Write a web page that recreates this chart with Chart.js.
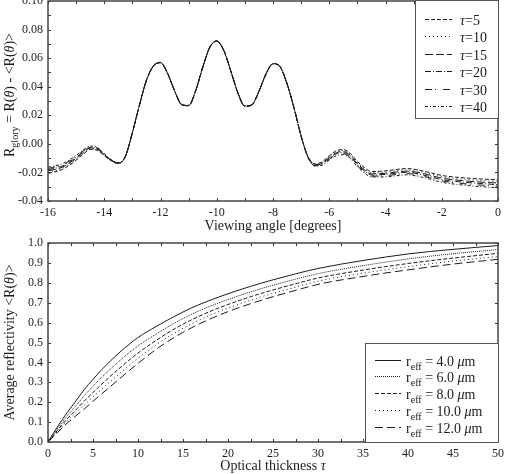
<!DOCTYPE html>
<html><head><meta charset="utf-8">
<script src="https://cdn.jsdelivr.net/npm/chart.js@4.4.1/dist/chart.umd.min.js"></script>
<style>html,body{margin:0;padding:0;background:#fff;}canvas{display:block;}</style>
</head><body>
<canvas id="c1" width="507" height="236"></canvas>
<canvas id="c2" width="507" height="238"></canvas>
<script>
// ---------- data: top panel ----------
const angles = [-16,-15.5,-15,-14.75,-14.5,-14.25,-14,-13.75,-13.5,-13.25,-13,-12.75,-12.5,-12.25,-12,-11.75,-11.5,-11.25,-11,-10.75,-10.5,-10.25,-10,-9.75,-9.5,-9.25,-9,-8.75,-8.5,-8.25,-8,-7.75,-7.5,-7.25,-7,-6.75,-6.5,-6.25,-6,-5.75,-5.5,-5.25,-5,-4.75,-4.5,-4,-3.25,-2.5,-2,-1.5,-1,-0.5,0];
const tau5 = [-0.0207,-0.0180,-0.0115,-0.0073,-0.0039,-0.0045,-0.0082,-0.0119,-0.0138,
 -0.0090,0.0076,0.0268,0.0443,0.0543,0.0567,0.0492,0.0370,0.0273,0.0266,0.0370,0.0533,0.0673,0.0718,0.0652,0.0508,0.0355,0.0262,0.0271,0.0366,0.0487,0.0559,0.0538,0.0418,0.0248,0.0053,
 -0.0090,-0.0140,-0.0125,-0.0083,-0.0048,-0.0040,-0.0067,-0.0124,-0.0166,-0.0194,-0.0189,-0.0173,-0.0197,-0.0221,-0.0233,-0.0241,-0.0247,-0.0252];
const tau10 = [-0.0198,-0.0172,-0.0108,-0.0067,-0.0034,-0.0041,-0.0079,-0.0117,-0.0137,
 -0.0089,0.0077,0.0269,0.0444,0.0544,0.0568,0.0493,0.0371,0.0274,0.0267,0.0371,0.0534,0.0674,0.0719,0.0653,0.0509,0.0356,0.0263,0.0272,0.0367,0.0488,0.0560,0.0539,0.0419,0.0249,0.0054,
 -0.0092,-0.0143,-0.0130,-0.0089,-0.0055,-0.0047,-0.0074,-0.0131,-0.0174,-0.0202,-0.0197,-0.0182,-0.0206,-0.0231,-0.0243,-0.0251,-0.0258,-0.0263];
const tau15 = [-0.0189,-0.0164,-0.0101,-0.0061,-0.0029,-0.0037,-0.0076,-0.0116,-0.0136,
 -0.0088,0.0078,0.0270,0.0445,0.0545,0.0569,0.0494,0.0372,0.0275,0.0268,0.0372,0.0535,0.0675,0.0720,0.0654,0.0510,0.0357,0.0264,0.0273,0.0368,0.0489,0.0561,0.0540,0.0420,0.0250,0.0055,
 -0.0094,-0.0146,-0.0135,-0.0095,-0.0062,-0.0054,-0.0081,-0.0138,-0.0181,-0.0210,-0.0206,-0.0191,-0.0215,-0.0240,-0.0253,-0.0262,-0.0269,-0.0274];
const tau20 = [-0.0181,-0.0156,-0.0095,-0.0055,-0.0025,-0.0033,-0.0074,-0.0114,-0.0134,
 -0.0088,0.0078,0.0270,0.0445,0.0545,0.0569,0.0494,0.0372,0.0275,0.0268,0.0372,0.0535,0.0675,0.0720,0.0654,0.0510,0.0357,0.0264,0.0273,0.0368,0.0489,0.0561,0.0540,0.0420,0.0250,0.0055,
 -0.0096,-0.0150,-0.0139,-0.0101,-0.0068,-0.0062,-0.0089,-0.0146,-0.0189,-0.0218,-0.0214,-0.0199,-0.0225,-0.0250,-0.0263,-0.0272,-0.0279,-0.0286];
const tau30 = [-0.0172,-0.0148,-0.0088,-0.0049,-0.0020,-0.0029,-0.0071,-0.0113,-0.0133,
 -0.0087,0.0079,0.0271,0.0446,0.0546,0.0570,0.0495,0.0373,0.0276,0.0269,0.0373,0.0536,0.0676,0.0721,0.0655,0.0511,0.0358,0.0265,0.0274,0.0369,0.0490,0.0562,0.0541,0.0421,0.0251,0.0056,
 -0.0098,-0.0153,-0.0144,-0.0107,-0.0075,-0.0069,-0.0096,-0.0153,-0.0196,-0.0226,-0.0223,-0.0208,-0.0234,-0.0259,-0.0273,-0.0283,-0.0290,-0.0297];
const tau40 = [-0.0163,-0.0140,-0.0081,-0.0043,-0.0015,-0.0025,-0.0068,-0.0111,-0.0132,
 -0.0086,0.0080,0.0272,0.0447,0.0547,0.0571,0.0496,0.0374,0.0277,0.0270,0.0374,0.0537,0.0677,0.0722,0.0656,0.0512,0.0359,0.0266,0.0275,0.0370,0.0491,0.0563,0.0542,0.0422,0.0252,0.0057,
 -0.0100,-0.0156,-0.0149,-0.0113,-0.0082,-0.0076,-0.0103,-0.0160,-0.0204,-0.0232,-0.0231,-0.0217,-0.0243,-0.0269,-0.0283,-0.0293,-0.0301,-0.0308];
const tauLabels = ['5','10','15','20','30','40'];

// ---------- data: bottom panel ----------
const tauAxis = [0,1,2,3,4,5,6,8,10,12,14,16,18,20,22.5,25,27.5,30,35,40,45,50];
const refl4  = [0,0.073,0.140,0.200,0.262,0.315,0.365,0.452,0.525,0.580,0.630,0.675,0.712,0.745,0.782,0.815,0.845,0.872,0.912,0.945,0.968,0.987];
const refl6  = [0,0.064,0.124,0.177,0.231,0.280,0.326,0.410,0.483,0.542,0.596,0.643,0.682,0.716,0.754,0.788,0.818,0.846,0.886,0.920,0.946,0.967];
const refl8  = [0,0.056,0.110,0.157,0.204,0.249,0.292,0.373,0.447,0.510,0.567,0.615,0.656,0.691,0.730,0.764,0.795,0.824,0.864,0.897,0.924,0.948];
const refl10 = [0,0.050,0.100,0.142,0.184,0.227,0.267,0.346,0.421,0.488,0.546,0.595,0.637,0.673,0.712,0.747,0.778,0.808,0.848,0.881,0.909,0.932];
const refl12 = [0,0.045,0.090,0.128,0.165,0.205,0.243,0.320,0.395,0.465,0.525,0.575,0.618,0.655,0.695,0.730,0.762,0.792,0.832,0.865,0.894,0.918];
const reffLabels = ['4.0','6.0','8.0','10.0','12.0'];

// ---------- text ----------
const topXTitle = [{t:'Viewing angle [degrees]'}];
const topYTitle = [{t:'R'},{t:'glory',sub:true},{t:' = R('},{t:'\u03B8',i:true},{t:') - <R('},{t:'\u03B8',i:true},{t:')>'}];
const botXTitle = [{t:'Optical thickness '},{t:'\u03C4',i:true}];
const botYTitle = [{t:'Average reflectivity <R('},{t:'\u03B8',i:true},{t:')>'}];

const FONT = "'Liberation Serif','Times New Roman',serif";
const INK = '#1c1c1c';
Chart.defaults.font.family = FONT;
Chart.defaults.color = INK;

function setFont(ctx, size, italic){ ctx.font = (italic?'italic ':'') + size + 'px ' + FONT; }
function richWidth(ctx, segs, size){
  let w = 0;
  for (const s of segs){ setFont(ctx, s.sub ? size*0.72 : size, s.i); w += ctx.measureText(s.t).width; }
  return w;
}
function drawRich(ctx, segs, x, y, size){
  let cx = x;
  ctx.textBaseline = 'alphabetic'; ctx.textAlign = 'left'; ctx.fillStyle = INK;
  for (const s of segs){
    const fs = s.sub ? size*0.72 : size;
    setFont(ctx, fs, s.i);
    ctx.fillText(s.t, cx, y + (s.sub ? size*0.3 : 0));
    cx += ctx.measureText(s.t).width;
  }
}

const framePlugin = {
  id: 'frame',
  afterDatasetsDraw(chart, args, o){
    const {ctx, chartArea:a} = chart; const x = chart.scales.x, y = chart.scales.y;
    ctx.save();
    ctx.strokeStyle = '#333'; ctx.lineWidth = 1;
    ctx.beginPath();
    for (let v = x.min; v <= x.max + 1e-9; v += o.xStep){
      const px = Math.round(x.getPixelForValue(v)) + 0.5;
      ctx.moveTo(px, a.bottom); ctx.lineTo(px, a.bottom - o.len);
      ctx.moveTo(px, a.top); ctx.lineTo(px, a.top + o.len);
    }
    for (let v = y.min; v <= y.max + 1e-9; v += o.yStep){
      const py = Math.round(y.getPixelForValue(v)) + 0.5;
      ctx.moveTo(a.left, py); ctx.lineTo(a.left + o.len, py);
      ctx.moveTo(a.right, py); ctx.lineTo(a.right - o.len, py);
    }
    ctx.stroke();
    ctx.lineWidth = 1.5; ctx.strokeStyle = '#444';
    ctx.strokeRect(a.left, a.top, a.right - a.left, a.bottom - a.top);
    ctx.restore();
  }
};

const annotPlugin = {
  id: 'annot',
  afterDraw(chart, args, o){
    const {ctx, chartArea:a} = chart;
    ctx.save();
    const wx = richWidth(ctx, o.xTitle, 14);
    drawRich(ctx, o.xTitle, (a.left + a.right)/2 - wx/2, o.xTitleY, 14);
    const wy = richWidth(ctx, o.yTitle, 14);
    ctx.save(); ctx.translate(o.yTitleX, o.yTitleCY + wy/2); ctx.rotate(-Math.PI/2);
    drawRich(ctx, o.yTitle, 0, 0, 14); ctx.restore();
    const L = o.legend;
    ctx.fillStyle = '#fff'; ctx.fillRect(L.x, L.y, L.w, L.h);
    ctx.strokeStyle = '#555'; ctx.lineWidth = 1;
    ctx.strokeRect(L.x + 0.5, L.y + 0.5, L.w, L.h);
    chart.data.datasets.forEach((ds, i) => {
      const ry = Math.round(L.row0 + i*L.step) + 0.5;
      ctx.save();
      ctx.strokeStyle = ds.borderColor; ctx.lineWidth = ds.borderWidth;
      ctx.setLineDash(ds.borderDash || []);
      ctx.beginPath(); ctx.moveTo(L.lx0, ry); ctx.lineTo(L.lx1, ry); ctx.stroke();
      ctx.restore();
      drawRich(ctx, o.legendText(i), L.tx, ry + 5, 14);
    });
    ctx.restore();
  }
};

function yFit(w){ return (s) => { s.width = w; s.paddingTop = 0; s.paddingBottom = 0; }; }
function xFit(h){ return (s) => { s.height = h; s.paddingLeft = 0; s.paddingRight = 0; }; }

const tickFont = {family: FONT, size: 12};
const noGrid = {display: false, drawTicks: false, tickLength: 0};

// ---------- top chart ----------
const topStyles = [[4,2],[1,3],[8,3],[6,2,1,2],[7,3,1,7],[3,2,1,2]];
const topSeries = [tau5, tau10, tau15, tau20, tau30, tau40];
new Chart(document.getElementById('c1'), {
  type: 'line',
  data: {
    datasets: topSeries.map((s, k) => ({
      label: '\u03C4=' + tauLabels[k],
      data: angles.map((a, i) => ({x: a, y: s[i]})),
      borderColor: INK, borderWidth: 1, borderDash: topStyles[k],
      pointRadius: 0, cubicInterpolationMode: 'monotone', fill: false
    }))
  },
  options: {
    responsive: false, animation: false, devicePixelRatio: 1,
    layout: {padding: {left: 0, right: 9, top: 1, bottom: 0}},
    scales: {
      x: {type: 'linear', min: -16, max: 0,
        ticks: {stepSize: 2, font: tickFont, padding: 5, maxRotation: 0, autoSkip: false, color: INK},
        grid: noGrid, border: {display: false}, afterFit: xFit(35)},
      y: {type: 'linear', min: -0.04, max: 0.10,
        ticks: {stepSize: 0.02, font: tickFont, padding: 5, autoSkip: false, color: INK,
          callback: v => v.toFixed(2)},
        grid: noGrid, border: {display: false}, afterFit: yFit(48)}
    },
    plugins: {
      legend: {display: false}, tooltip: {enabled: false},
      frame: {xStep: 1, yStep: 0.01, len: 3},
      annot: {
        xTitle: topXTitle, xTitleY: 230,
        yTitle: topYTitle, yTitleX: 14, yTitleCY: 95,
        legend: {x: 415, y: 0, w: 83, h: 118, row0: 19, step: 17.4, lx0: 425, lx1: 452, tx: 460},
        legendText: i => [{t:'\u03C4', i:true}, {t:'=' + tauLabels[i]}]
      }
    }
  },
  plugins: [framePlugin, annotPlugin]
});

// ---------- bottom chart ----------
const botStyles = [[], [1,1], [4,2], [1,3], [8,4]];
const botSeries = [refl4, refl6, refl8, refl10, refl12];
new Chart(document.getElementById('c2'), {
  type: 'line',
  data: {
    datasets: botSeries.map((s, k) => ({
      label: 'r_eff = ' + reffLabels[k] + ' \u03BCm',
      data: tauAxis.map((t, i) => ({x: t, y: s[i]})),
      borderColor: INK, borderWidth: 1, borderDash: botStyles[k],
      pointRadius: 0, cubicInterpolationMode: 'monotone', fill: false
    }))
  },
  options: {
    responsive: false, animation: false, devicePixelRatio: 1,
    layout: {padding: {left: 0, right: 9, top: 7, bottom: 0}},
    scales: {
      x: {type: 'linear', min: 0, max: 50,
        ticks: {stepSize: 5, font: tickFont, padding: 5, maxRotation: 0, autoSkip: false, color: INK},
        grid: noGrid, border: {display: false}, afterFit: xFit(32)},
      y: {type: 'linear', min: 0, max: 1,
        ticks: {stepSize: 0.1, font: tickFont, padding: 5, autoSkip: false, color: INK,
          callback: v => v.toFixed(1)},
        grid: noGrid, border: {display: false}, afterFit: yFit(48)}
    },
    plugins: {
      legend: {display: false}, tooltip: {enabled: false},
      frame: {xStep: 2.5, yStep: 0.1, len: 3},
      annot: {
        xTitle: botXTitle, xTitleY: 234,
        yTitle: botYTitle, yTitleX: 14, yTitleCY: 106.5,
        legend: {x: 365, y: 107, w: 133, h: 99, row0: 123.7, step: 16.7, lx0: 375, lx1: 401, tx: 406},
        legendText: i => [{t:'r'}, {t:'eff', sub:true}, {t:' = ' + reffLabels[i] + ' '}, {t:'\u03BC', i:true}, {t:'m'}]
      }
    }
  },
  plugins: [framePlugin, annotPlugin]
});
</script>
</body></html>
